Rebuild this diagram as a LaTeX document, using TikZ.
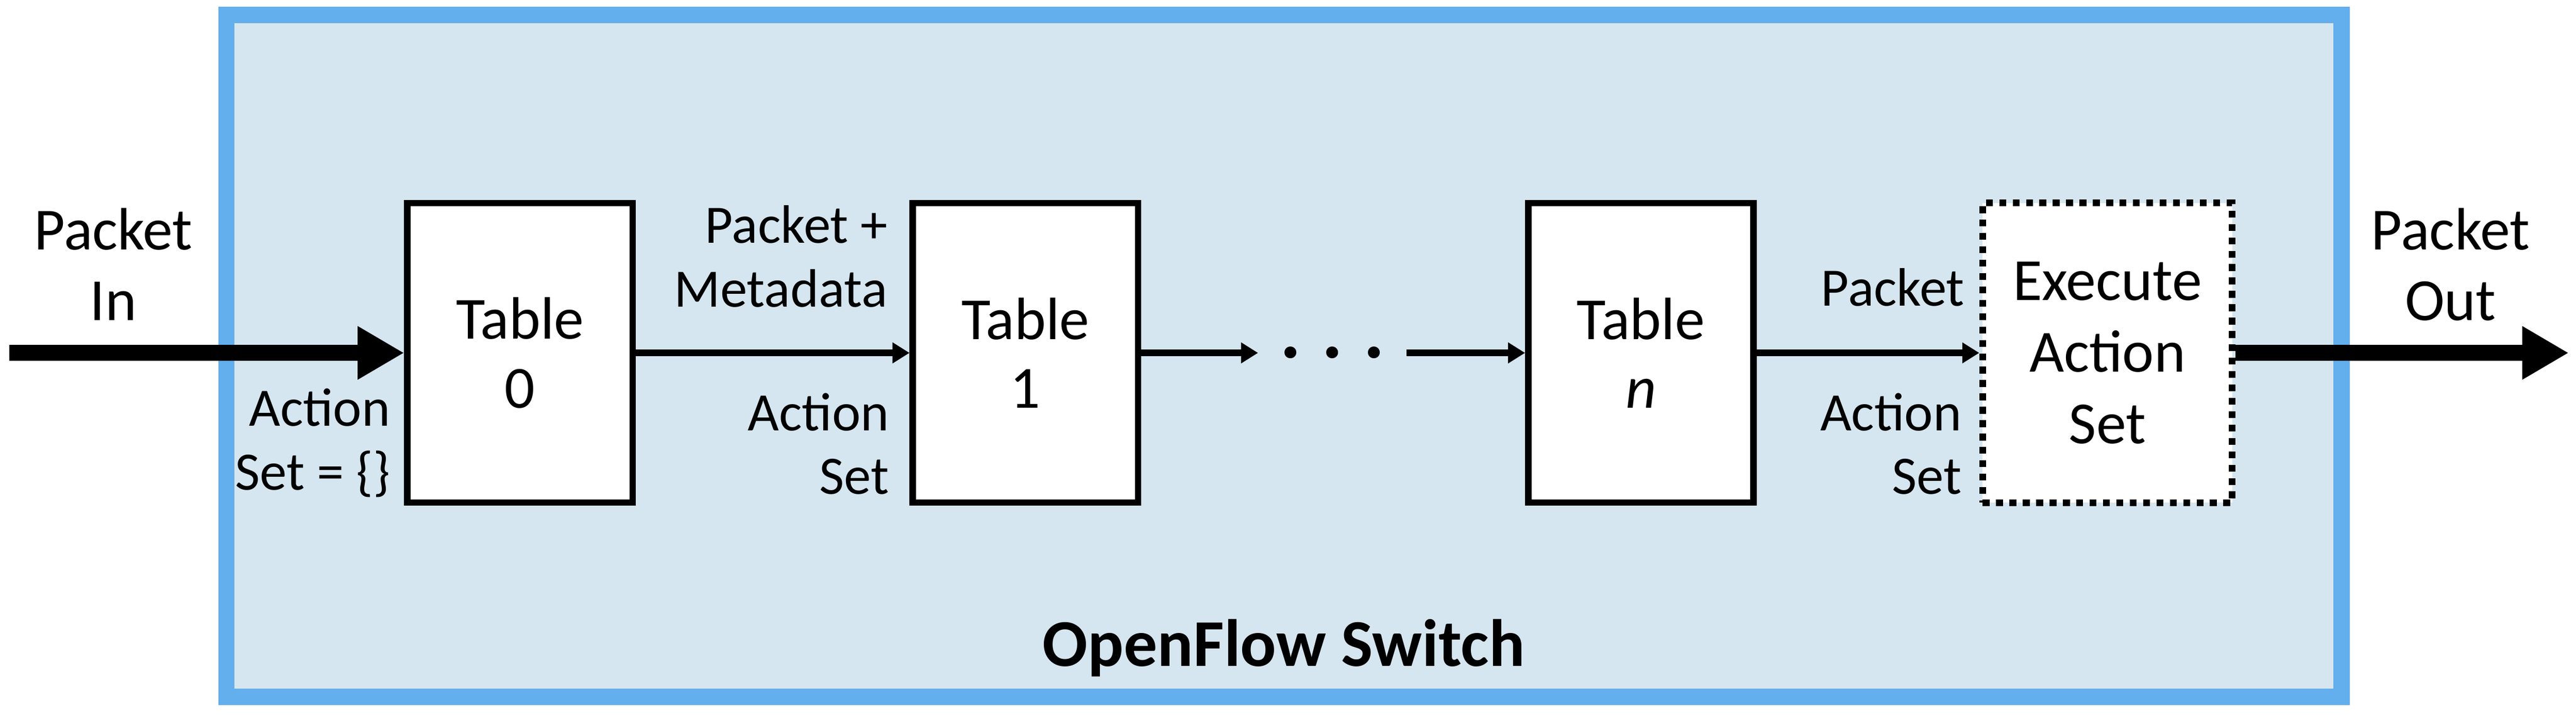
\documentclass[tikz,border=0pt]{standalone}
\usepackage{fontspec}
\setmainfont{Carlito}
\usepgflibrary{arrows.meta}
\definecolor{switchfill}{HTML}{D5E6F0}
\definecolor{switchline}{HTML}{63AEEC}
\tikzset{
  tablebox/.style={draw, fill=white, line width=0.08cm, minimum width=2.78cm, minimum height=3.695cm,
    align=center, inner sep=0, font=\fontsize{21}{24.2}\selectfont},
  execbox/.style={tablebox, line width=0.085cm, dash pattern=on 0.085cm off 0.08cm,
    minimum width=3.08cm, minimum height=3.7cm, font=\fontsize{21}{25.2}\selectfont},
  flowlbl/.style={align=right, anchor=base east, inner sep=0, font=\fontsize{19}{22.4}\selectfont},
  portlbl/.style={align=center, anchor=base, inner sep=0, font=\fontsize{21}{24.9}\selectfont},
  fatarr/.style={line width=0.2cm, -{Triangle[length=5.75mm,width=6.2mm]}},
  flowarr/.style={line width=0.08cm, -{Triangle[length=2.1mm,width=2.45mm]}},
}
\def\flowtable#1#2#3{
  % 1: name, 2: x, 3: index
  \node[tablebox] (#1) at (#2,4.5) {Table\\#3};
}

\begin{document}
\begin{tikzpicture}
    \useasboundingbox (0,0) rectangle (31.805,8.855);
    \draw[switchline, fill=switchfill, line width=0.2cm] (2.795,0.255) rectangle (28.91,8.67);

    \flowtable{t0}{6.42}{0}
    \flowtable{t1}{12.66}{1}
    \flowtable{tn}{20.26}{\textit{n}}
    \node[execbox] (exec) at (26.02,4.5) {Execute\\Action\\Set};
    \node[font=\fontsize{28}{28}\bfseries\selectfont, minimum width=1.82cm, inner sep=0] (dots) at (16.45,4.5) {.\hspace{0.25cm}.\hspace{0.25cm}.};

    \coordinate (pin) at (0.115,4.5);
    \coordinate (pout) at (31.715,4.5);
    \draw[fatarr] (pin) -- (t0);
    \draw[fatarr] (exec) -- (pout);
    \draw[flowarr] (t0) -- (t1);
    \draw[flowarr] (t1) -- (dots);
    \draw[flowarr] (dots) -- (tn);
    \draw[flowarr] (tn) -- (exec);

    % base = last line
    \node[portlbl] (inlbl) at (1.4,4.9) {Packet\\In};
    \node[portlbl] (outlbl) at (30.255,4.9) {Packet\\Out};
    \node[flowlbl] (as0) at (4.825,2.81) {Action\\Set = \{\}};
    \node[flowlbl] (pm1) at (10.965,5.07) {Packet +\\Metadata};
    \node[flowlbl] (as1) at (10.985,2.755) {Action\\Set};
    \node[flowlbl] (pk2) at (24.26,5.08) {Packet};
    \node[flowlbl] (as2) at (24.225,2.755) {Action\\Set};

    \node[font=\fontsize{23.5}{28}\bfseries\selectfont, anchor=base] (title) at (15.85,0.635) {OpenFlow Switch};
\end{tikzpicture}
\end{document}
